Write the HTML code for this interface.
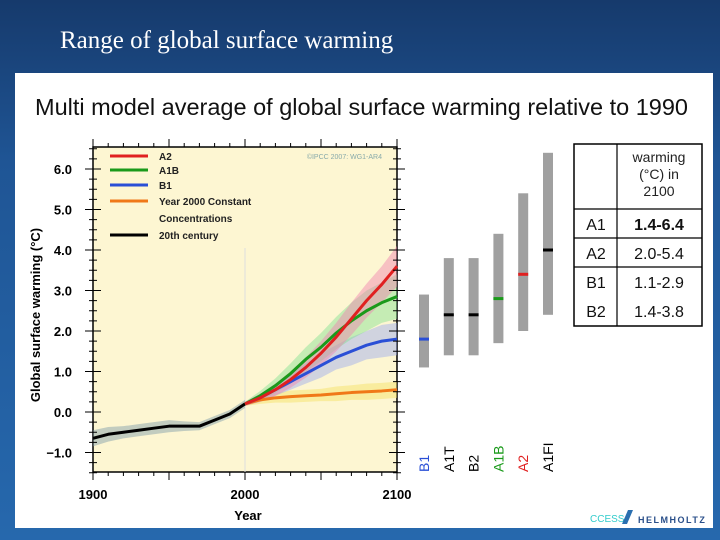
<!DOCTYPE html>
<html><head><meta charset="utf-8"><style>
html,body{margin:0;padding:0;width:720px;height:540px;overflow:hidden}
body{background:linear-gradient(180deg,#163a6c 0%,#1f5595 30%,#2668ad 100%);font-family:"Liberation Sans",sans-serif}
</style></head><body>
<svg id="chart" width="720" height="540" xmlns="http://www.w3.org/2000/svg">
<text x="60" y="48" font-family="Liberation Serif" font-size="25" fill="#fff">Range of global surface warming</text>
<rect x="15" y="73" width="698" height="455" fill="#fff"/>
<text x="35" y="115" font-size="23" fill="#111" textLength="653" lengthAdjust="spacingAndGlyphs">Multi model average of global surface warming relative to 1990</text>
<g id="plot"></g>
<text x="590" y="522" font-size="10" fill="#3cc">CCESS</text>
<text x="638" y="523" font-size="9" fill="#2a4f8a" font-weight="bold" letter-spacing="1.5">HELMHOLTZ</text>
<path d="M622 524 L628 510 L633 510 L627 524Z" fill="#2a6fb0"/>
</svg>
<script>
const histYears=[1900,1910,1920,1930,1940,1950,1960,1970,1980,1990,2000];
const hist=[-0.65,-0.55,-0.5,-0.45,-0.4,-0.35,-0.35,-0.35,-0.2,-0.05,0.2];
const histSpread=[0.2,0.18,0.15,0.15,0.15,0.15,0.12,0.1,0.1,0.1,0.1];
const projYears=[2000,2010,2020,2030,2040,2050,2060,2070,2080,2090,2100];
const a2=[0.2,0.35,0.55,0.8,1.1,1.45,1.85,2.3,2.75,3.15,3.6];
const a1b=[0.2,0.4,0.65,0.95,1.3,1.6,1.95,2.25,2.5,2.7,2.85];
const b1=[0.2,0.35,0.55,0.75,0.95,1.15,1.35,1.5,1.65,1.75,1.8];
const commit=[0.2,0.3,0.35,0.38,0.4,0.42,0.45,0.48,0.5,0.52,0.55];
const a2Spread=[0.05,0.1,0.15,0.2,0.25,0.3,0.35,0.4,0.42,0.45,0.5];
const a1bSpread=[0.05,0.12,0.18,0.25,0.3,0.35,0.4,0.45,0.5,0.5,0.55];
const b1Spread=[0.05,0.1,0.15,0.2,0.25,0.3,0.3,0.35,0.35,0.4,0.4];
const commitSpread=[0.05,0.1,0.12,0.15,0.15,0.15,0.18,0.18,0.2,0.2,0.2];
const barCats=["B1","A1T","B2","A1B","A2","A1FI"];
const barLow=[1.1,1.4,1.4,1.7,2.0,2.4];
const barHigh=[2.9,3.8,3.8,4.4,5.4,6.4];
const barMid=[1.8,2.4,2.4,2.8,3.4,4.0];
const barColors=["#2a4fd6","#000","#000","#1a9a1a","#e02020","#000"];
const yTicks=[-1,0,1,2,3,4,5,6];
const yTickLabels=["\u22121.0","0.0","1.0","2.0","3.0","4.0","5.0","6.0"];
const xTicks=[1900,2000,2100];
const tableRows=[["A1","1.4-","6.4"],["A2","2.0-5.4",""],["B1","1.1-2.9",""],["B2","1.4-3.8",""]];

const NS="http://www.w3.org/2000/svg";
const g=document.getElementById('plot');
function el(t,a,p){const e=document.createElementNS(NS,t);for(const k in a)e.setAttribute(k,a[k]);(p||g).appendChild(e);return e;}
const X0=93,X1=397,YT=147,YB=472;
const xs=y=>X0+(y-1900)/200*(X1-X0);
const ys=v=>412-v*40.5;
let r=el('rect',{x:X0,y:YT,width:X1-X0,height:YB-YT,fill:'#fdf6d2',stroke:'#000','stroke-width':1.5});


let vl=el('line',{x1:xs(2000),x2:xs(2000),y1:ys(4.05),y2:YB,stroke:'#ddd','stroke-width':1});


function band(years,vals,sp,color,name){
  let up=years.map((y,i)=>xs(y)+','+ys(vals[i]+sp[i]));
  let dn=years.map((y,i)=>xs(y)+','+ys(vals[i]-sp[i])).reverse();
  let p=el('polygon',{points:up.concat(dn).join(' '),fill:color,opacity:0.45});
  
  
}
function line(years,vals,color,name,w){
  let p=el('polyline',{points:years.map((y,i)=>xs(y)+','+ys(vals[i])).join(' '),fill:'none',stroke:color,'stroke-width':w||3,'stroke-linejoin':'round'});
  
  
}
band(histYears,hist,histSpread,'#7a9aa8','hist-band');
band(projYears,commit,commitSpread,'#f5e060','commit-band');
band(projYears,b1,b1Spread,'#9aa8f0','b1-band');
band(projYears,a1b,a1bSpread,'#80e090','a1b-band');
band(projYears,a2,a2Spread,'#f080b0','a2-band');
line(histYears,hist,'#000','line-20th-century');
line(projYears,commit,'#f07818','line-commitment');
line(projYears,b1,'#2a4fd6','line-b1');
line(projYears,a1b,'#1a9a1a','line-a1b');
line(projYears,a2,'#e02020','line-a2');
for(let v=-1.5;v<=6.5;v+=0.25){const major=Math.abs(v-Math.round(v))<1e-6;const L=major?8:4;
  el('line',{x1:X0,x2:X0+L,y1:ys(v),y2:ys(v),stroke:'#000','stroke-width':1});
  el('line',{x1:X1,x2:X1-L,y1:ys(v),y2:ys(v),stroke:'#000','stroke-width':1});
  el('line',{x1:X0,x2:X0-L,y1:ys(v),y2:ys(v),stroke:'#000','stroke-width':1});
  el('line',{x1:X1,x2:X1+L,y1:ys(v),y2:ys(v),stroke:'#000','stroke-width':1});}
for(let y=1900;y<=2100;y+=10){const L=(y%50==0)?8:4;
  el('line',{x1:xs(y),x2:xs(y),y1:YT,y2:YT-L,stroke:'#000'});
  el('line',{x1:xs(y),x2:xs(y),y1:YB,y2:YB+L,stroke:'#000'});}
yTicks.forEach((v,i)=>{let t=el('text',{x:72,y:ys(v)+5,'text-anchor':'end','font-size':13,'font-weight':'bold',fill:'#000'});t.textContent=yTickLabels[i];
  
  });
xTicks.forEach(v=>{let t=el('text',{x:xs(v),y:499,'text-anchor':'middle','font-size':13,'font-weight':'bold',fill:'#000'});t.textContent=v;
  
  });
let xt=el('text',{x:248,y:520,'text-anchor':'middle','font-size':13,'font-weight':'bold'});xt.textContent='Year';


let yt=el('text',{x:0,y:0,transform:'translate(40,315) rotate(-90)','text-anchor':'middle','font-size':13,'font-weight':'bold'});yt.textContent='Global surface warming (\u00B0C)';


let cp=el('text',{x:382,y:159,'text-anchor':'end','font-size':7,fill:'#8aa'});cp.textContent='\u00A9IPCC 2007: WG1-AR4';


const leg=[['A2','#e02020',160],['A1B','#1a9a1a',174],['B1','#2a4fd6',189],['Year 2000 Constant','#f07818',205],['20th century','#000',239]];
leg.forEach(l=>{let gg=el('g',{});
  el('line',{x1:110,x2:148,y1:l[2]-4,y2:l[2]-4,stroke:l[1],'stroke-width':3},gg);
  let t=el('text',{x:159,y:l[2],'font-size':10,'font-weight':'bold',fill:'#222'},gg);t.textContent=l[0];});
let lc=el('text',{x:159,y:222,'font-size':10,'font-weight':'bold',fill:'#222'});lc.textContent='Concentrations';


barCats.forEach((c,i)=>{const cx=424+i*24.8;
  let b=el('rect',{x:cx-5,y:ys(barHigh[i]),width:10,height:ys(barLow[i])-ys(barHigh[i]),fill:'#a0a0a0'});
  
  
  let m=el('rect',{x:cx-5,y:ys(barMid[i])-1.5,width:10,height:3,fill:barColors[i]});
  
  
  let t=el('text',{x:0,y:0,transform:`translate(${cx+5},472) rotate(-90)`,'font-size':14,fill:barColors[i]});t.textContent=c;
  
  });
const tb=el('g',{});
el('rect',{x:574,y:144,width:128,height:182,fill:'#fff',stroke:'#000','stroke-width':1.5},tb);
el('line',{x1:617,x2:617,y1:144,y2:326,stroke:'#000','stroke-width':1.2},tb);
[209,238,267].forEach(y=>el('line',{x1:574,x2:702,y1:y,y2:y,stroke:'#000','stroke-width':1.2},tb));
['warming','(\u00B0C) in','2100'].forEach((s,i)=>{let t=el('text',{x:659,y:162+i*17,'text-anchor':'middle','font-size':14,fill:'#222'},tb);t.textContent=s;});
const rowY=[230,259,288,317];
tableRows.forEach((rw,i)=>{let a=el('text',{x:596,y:rowY[i],'text-anchor':'middle','font-size':16,fill:'#111'},tb);a.textContent=rw[0];
  let b=el('text',{x:659,y:rowY[i],'text-anchor':'middle','font-size':16,fill:'#111'},tb);
  if(rw[2]){b.setAttribute('font-weight','bold');b.textContent=rw[1]+rw[2];}else b.textContent=rw[1];});
</script>
</body></html>
